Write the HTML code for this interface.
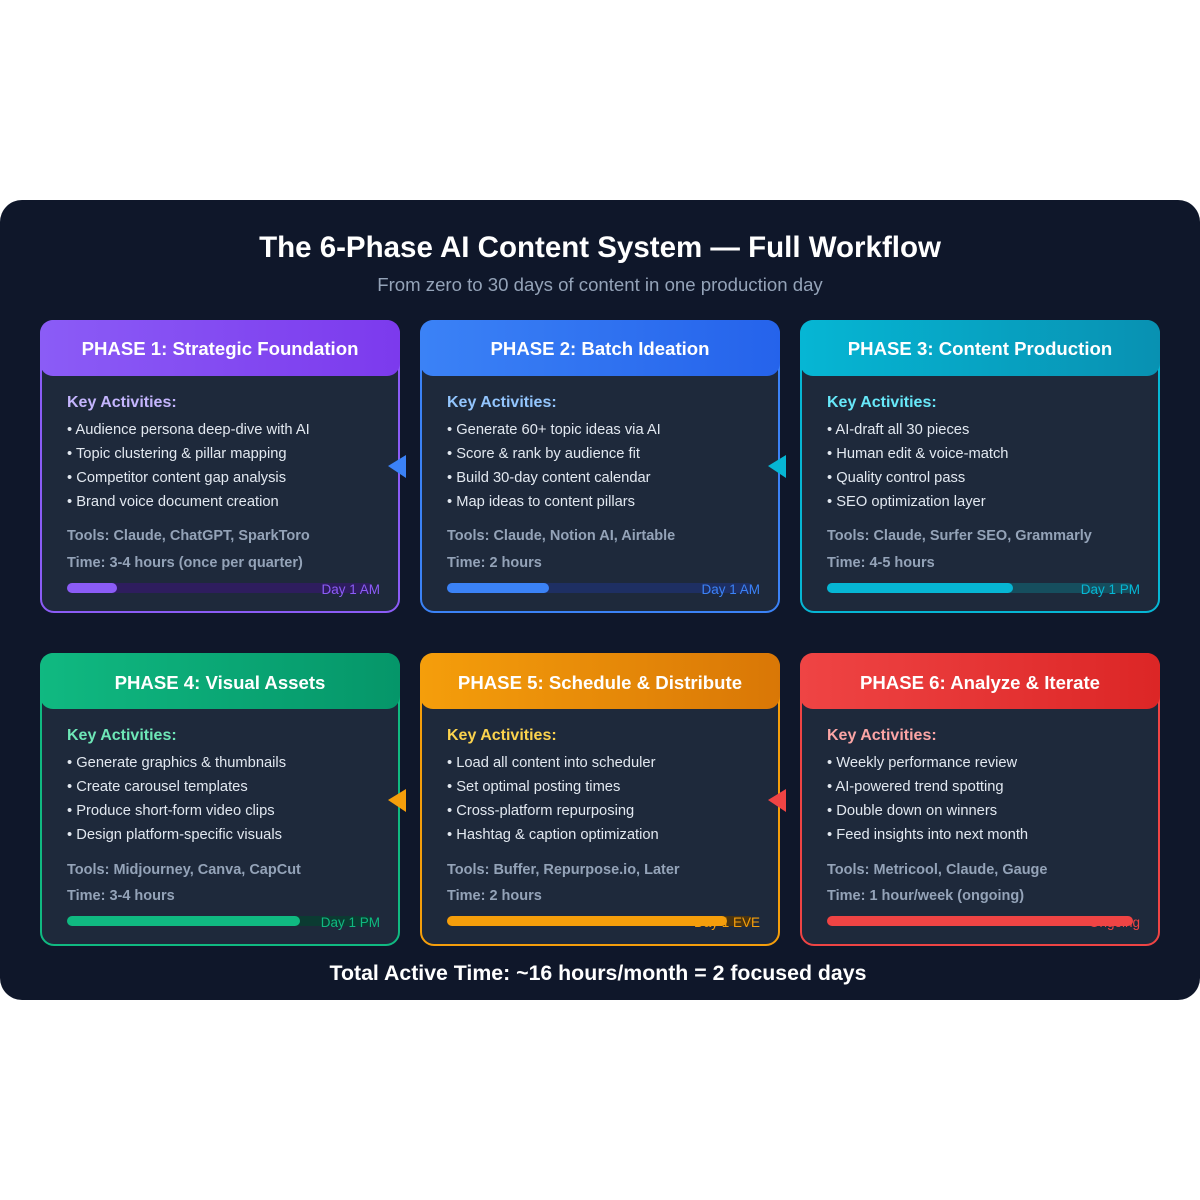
<!DOCTYPE html>
<html><head><meta charset="utf-8"><style>
html,body{margin:0;padding:0;background:#fff;}
svg{display:block;font-family:"Liberation Sans",Arial,sans-serif;}
</style></head><body>
<svg width="1200" height="1200" viewBox="0 0 1200 1200" xmlns="http://www.w3.org/2000/svg">
<defs>
<linearGradient id="g1" x1="0" x2="1"><stop offset="0" stop-color="#8b5cf6"/><stop offset="1" stop-color="#7c3aed"/></linearGradient>
<linearGradient id="g2" x1="0" x2="1"><stop offset="0" stop-color="#3b82f6"/><stop offset="1" stop-color="#2563eb"/></linearGradient>
<linearGradient id="g3" x1="0" x2="1"><stop offset="0" stop-color="#06b6d4"/><stop offset="1" stop-color="#0891b2"/></linearGradient>
<linearGradient id="g4" x1="0" x2="1"><stop offset="0" stop-color="#10b981"/><stop offset="1" stop-color="#059669"/></linearGradient>
<linearGradient id="g5" x1="0" x2="1"><stop offset="0" stop-color="#f59e0b"/><stop offset="1" stop-color="#d97706"/></linearGradient>
<linearGradient id="g6" x1="0" x2="1"><stop offset="0" stop-color="#ef4444"/><stop offset="1" stop-color="#dc2626"/></linearGradient>
</defs>
<rect x="0" y="200" width="1200" height="800" rx="22" fill="#0f172a"/>
<text x="600" y="257" text-anchor="middle" fill="#fff" font-size="29.5" font-weight="bold">The 6-Phase AI Content System — Full Workflow</text>
<text x="600" y="291" text-anchor="middle" fill="#94a3b8" font-size="18.6">From zero to 30 days of content in one production day</text>

<g font-size="14.7">
<g>
<rect x="41" y="321" width="358" height="291" rx="13" fill="#1e293b" stroke="#8b5cf6" stroke-width="2"/>
<rect x="40" y="320" width="360" height="56" rx="13" fill="url(#g1)"/>
<text x="220" y="355" text-anchor="middle" fill="#fff" font-size="18.6" font-weight="bold">PHASE 1: Strategic Foundation</text>
<text x="67" y="407" fill="#c4b5fd" font-size="16" font-weight="bold">Key Activities:</text>
<g fill="#e2e8f0"><text x="67" y="434">• Audience persona deep-dive with AI</text><text x="67" y="458">• Topic clustering &amp; pillar mapping</text><text x="67" y="482">• Competitor content gap analysis</text><text x="67" y="506">• Brand voice document creation</text></g>
<text x="67" y="540" fill="#94a3b8" font-size="14.5" font-weight="bold">Tools: Claude, ChatGPT, SparkToro</text>
<text x="67" y="567" fill="#94a3b8" font-size="14.5" font-weight="bold">Time: 3-4 hours (once per quarter)</text>
<rect x="67" y="583" width="306" height="10" rx="5" fill="#2e1d5e"/>
<text x="380" y="594" text-anchor="end" fill="#8b5cf6" font-size="13.5">Day 1 AM</text>
<rect x="67" y="583" width="50" height="10" rx="5" fill="#8b5cf6"/>
</g>

<g>
<rect x="421" y="321" width="358" height="291" rx="13" fill="#1e293b" stroke="#3b82f6" stroke-width="2"/>
<rect x="420" y="320" width="360" height="56" rx="13" fill="url(#g2)"/>
<text x="600" y="355" text-anchor="middle" fill="#fff" font-size="18.6" font-weight="bold">PHASE 2: Batch Ideation</text>
<text x="447" y="407" fill="#93c5fd" font-size="16" font-weight="bold">Key Activities:</text>
<g fill="#e2e8f0"><text x="447" y="434">• Generate 60+ topic ideas via AI</text><text x="447" y="458">• Score &amp; rank by audience fit</text><text x="447" y="482">• Build 30-day content calendar</text><text x="447" y="506">• Map ideas to content pillars</text></g>
<text x="447" y="540" fill="#94a3b8" font-size="14.5" font-weight="bold">Tools: Claude, Notion AI, Airtable</text>
<text x="447" y="567" fill="#94a3b8" font-size="14.5" font-weight="bold">Time: 2 hours</text>
<rect x="447" y="583" width="306" height="10" rx="5" fill="#1e2f63"/>
<text x="760" y="594" text-anchor="end" fill="#3b82f6" font-size="13.5">Day 1 AM</text>
<rect x="447" y="583" width="102" height="10" rx="5" fill="#3b82f6"/>
</g>

<g>
<rect x="801" y="321" width="358" height="291" rx="13" fill="#1e293b" stroke="#06b6d4" stroke-width="2"/>
<rect x="800" y="320" width="360" height="56" rx="13" fill="url(#g3)"/>
<text x="980" y="355" text-anchor="middle" fill="#fff" font-size="18.6" font-weight="bold">PHASE 3: Content Production</text>
<text x="827" y="407" fill="#67e8f9" font-size="16" font-weight="bold">Key Activities:</text>
<g fill="#e2e8f0"><text x="827" y="434">• AI-draft all 30 pieces</text><text x="827" y="458">• Human edit &amp; voice-match</text><text x="827" y="482">• Quality control pass</text><text x="827" y="506">• SEO optimization layer</text></g>
<text x="827" y="540" fill="#94a3b8" font-size="14.5" font-weight="bold">Tools: Claude, Surfer SEO, Grammarly</text>
<text x="827" y="567" fill="#94a3b8" font-size="14.5" font-weight="bold">Time: 4-5 hours</text>
<rect x="827" y="583" width="306" height="10" rx="5" fill="#164e5e"/>
<text x="1140" y="594" text-anchor="end" fill="#06b6d4" font-size="13.5">Day 1 PM</text>
<rect x="827" y="583" width="186" height="10" rx="5" fill="#06b6d4"/>
</g>

<g>
<rect x="41" y="654" width="358" height="291" rx="13" fill="#1e293b" stroke="#10b981" stroke-width="2"/>
<rect x="40" y="653" width="360" height="56" rx="13" fill="url(#g4)"/>
<text x="220" y="689" text-anchor="middle" fill="#fff" font-size="18.6" font-weight="bold">PHASE 4: Visual Assets</text>
<text x="67" y="740" fill="#6ee7b7" font-size="16" font-weight="bold">Key Activities:</text>
<g fill="#e2e8f0"><text x="67" y="767">• Generate graphics &amp; thumbnails</text><text x="67" y="791">• Create carousel templates</text><text x="67" y="815">• Produce short-form video clips</text><text x="67" y="839">• Design platform-specific visuals</text></g>
<text x="67" y="874" fill="#94a3b8" font-size="14.5" font-weight="bold">Tools: Midjourney, Canva, CapCut</text>
<text x="67" y="900" fill="#94a3b8" font-size="14.5" font-weight="bold">Time: 3-4 hours</text>
<rect x="67" y="916" width="306" height="10" rx="5" fill="#0b3b32"/>
<text x="380" y="927" text-anchor="end" fill="#10b981" font-size="13.5">Day 1 PM</text>
<rect x="67" y="916" width="233" height="10" rx="5" fill="#10b981"/>
</g>

<g>
<rect x="421" y="654" width="358" height="291" rx="13" fill="#1e293b" stroke="#f59e0b" stroke-width="2"/>
<rect x="420" y="653" width="360" height="56" rx="13" fill="url(#g5)"/>
<text x="600" y="689" text-anchor="middle" fill="#fff" font-size="18.6" font-weight="bold">PHASE 5: Schedule &amp; Distribute</text>
<text x="447" y="740" fill="#fcd34d" font-size="16" font-weight="bold">Key Activities:</text>
<g fill="#e2e8f0"><text x="447" y="767">• Load all content into scheduler</text><text x="447" y="791">• Set optimal posting times</text><text x="447" y="815">• Cross-platform repurposing</text><text x="447" y="839">• Hashtag &amp; caption optimization</text></g>
<text x="447" y="874" fill="#94a3b8" font-size="14.5" font-weight="bold">Tools: Buffer, Repurpose.io, Later</text>
<text x="447" y="900" fill="#94a3b8" font-size="14.5" font-weight="bold">Time: 2 hours</text>
<rect x="447" y="916" width="306" height="10" rx="5" fill="#4a3410"/>
<text x="760" y="927" text-anchor="end" fill="#f59e0b" font-size="13.5">Day 1 EVE</text>
<rect x="447" y="916" width="280" height="10" rx="5" fill="#f59e0b"/>
</g>

<g>
<rect x="801" y="654" width="358" height="291" rx="13" fill="#1e293b" stroke="#ef4444" stroke-width="2"/>
<rect x="800" y="653" width="360" height="56" rx="13" fill="url(#g6)"/>
<text x="980" y="689" text-anchor="middle" fill="#fff" font-size="18.6" font-weight="bold">PHASE 6: Analyze &amp; Iterate</text>
<text x="827" y="740" fill="#fca5a5" font-size="16" font-weight="bold">Key Activities:</text>
<g fill="#e2e8f0"><text x="827" y="767">• Weekly performance review</text><text x="827" y="791">• AI-powered trend spotting</text><text x="827" y="815">• Double down on winners</text><text x="827" y="839">• Feed insights into next month</text></g>
<text x="827" y="874" fill="#94a3b8" font-size="14.5" font-weight="bold">Tools: Metricool, Claude, Gauge</text>
<text x="827" y="900" fill="#94a3b8" font-size="14.5" font-weight="bold">Time: 1 hour/week (ongoing)</text>
<rect x="827" y="916" width="306" height="10" rx="5" fill="#4a1d24"/>
<text x="1140" y="927" text-anchor="end" fill="#ef4444" font-size="13.5">Ongoing</text>
<rect x="827" y="916" width="306" height="10" rx="5" fill="#ef4444"/>
</g>
</g>

<polygon points="388,466 406,455 406,478" fill="#3b82f6"/>
<polygon points="768,466 786,455 786,478" fill="#06b6d4"/>
<polygon points="388,800 406,789 406,812" fill="#f59e0b"/>
<polygon points="768,800 786,789 786,812" fill="#ef4444"/>

<text x="598" y="980" text-anchor="middle" fill="#fff" font-size="21.3" font-weight="bold">Total Active Time: ~16 hours/month = 2 focused days</text>
</svg>
</body></html>
